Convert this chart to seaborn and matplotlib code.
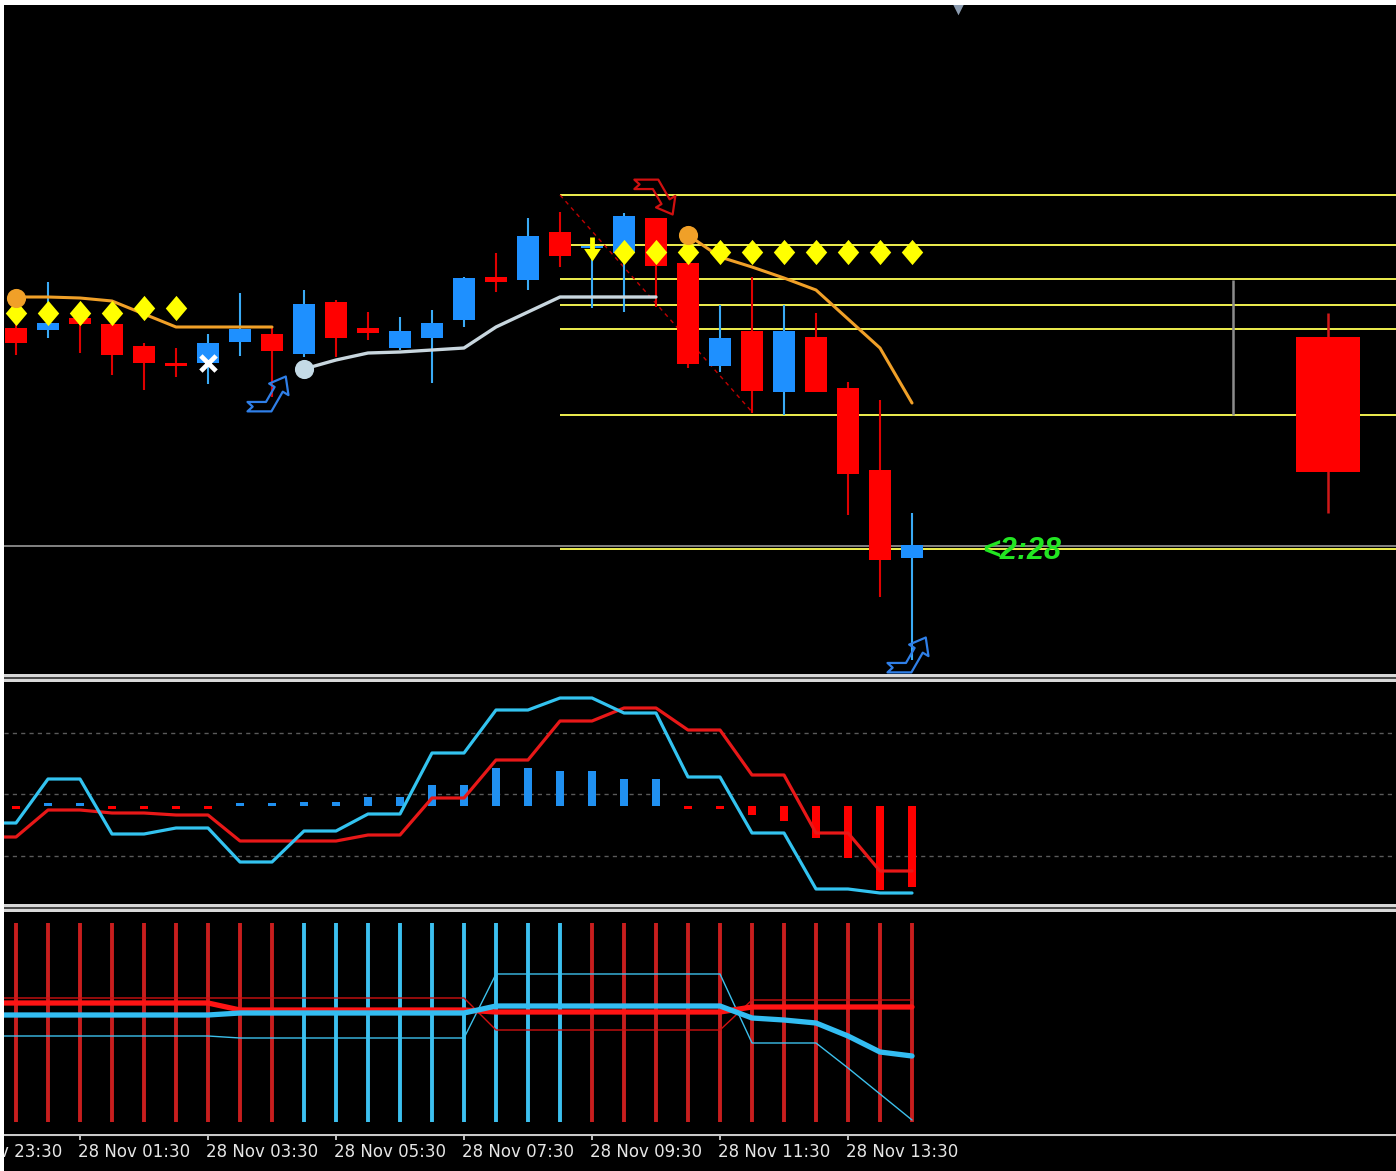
import matplotlib
matplotlib.use("Agg")
import numpy as np
import pandas as pd
import matplotlib.pyplot as plt
import seaborn as sns
from matplotlib.patches import Rectangle
from matplotlib.path import Path

# ----------------------------------------------------------------------------
# DATA  (price levels are read in chart points measured from the top of the
#        chart, so a larger number is a lower price; the axes are inverted)
# ----------------------------------------------------------------------------
candle_idx = list(range(29))
opens  = [328, 330, 318, 324, 346, 363, 363, 342, 334, 354, 302, 328, 348, 338, 320,
          277, 280, 232, 248, 253, 218, 263, 366, 331, 392, 337, 388, 470, 558]
highs  = [318, 282, 312, 322, 343, 348, 334, 293, 327, 290, 300, 312, 317, 310, 277,
          253, 218, 212, 240, 213, 218, 260, 305, 277, 305, 313, 382, 400, 513]
lows   = [355, 338, 353, 375, 390, 377, 384, 356, 397, 357, 357, 340, 350, 383, 327,
          292, 290, 267, 308, 312, 307, 368, 372, 413, 415, 392, 515, 597, 660]
closes = [343, 323, 324, 355, 363, 366, 343, 329, 351, 304, 338, 333, 331, 323, 278,
          282, 236, 256, 246, 216, 266, 364, 338, 391, 331, 392, 474, 560, 545]

# higher-timeframe candle drawn to the right
htf_idx = [41]
htf_open, htf_high, htf_low, htf_close = [337], [313], [513], [472]
htf_marker_idx = [38.03]
htf_marker_top, htf_marker_bot = [280], [415]

# horizontal levels
level_start = 17
yellow_levels = [195, 245, 279, 305, 329, 415, 549]
bid_level = 546
trend_idx = [17, 23.03]
trend_level = [195, 413]

# stepped moving averages
orange_left_idx = list(range(0, 9))
orange_left = [297, 297, 298, 301, 314, 327, 327, 327, 327]
orange_right_idx = list(range(21, 29))
orange_right = [235, 257, 267, 278, 290, 319, 348, 403]
silver_idx = list(range(9, 21))
silver = [369, 360, 353, 352, 350, 348, 327, 312, 297, 297, 297, 297]
orange_dots_idx, orange_dots = [0, 21], [298, 235]
silver_dot_idx, silver_dot = [9], [369]

# diamonds
diamond_idx = [0, 1, 2, 3, 4, 5, 19, 20, 21, 22, 23, 24, 25, 26, 27, 28]
diamond_lvl = [313, 313, 313, 313, 308, 308, 252, 252, 252, 252, 252, 252, 252, 252, 252, 252]

# signals
down_arrow_idx, down_arrow_lvl = [18], [249]
exit_idx, exit_lvl = [6], [363]
buy_idx, buy_lvl = [7.97, 27.97], [389, 650]
sell_idx, sell_lvl = [20.06], [202]
timer_text = "<2:28"
timer_idx, timer_lvl = 30.19, 551

# oscillator panel (starts one bar before the first visible candle)
osc_idx = list(range(-1, 29))
osc_fast = [823, 823, 779, 779, 834, 834, 828, 828, 862, 862, 831, 831, 814, 814, 753,
            753, 710, 710, 698, 698, 713, 713, 777, 777, 833, 833, 889, 889, 893, 893]
osc_slow = [837, 837, 810, 810, 813, 813, 815, 815, 841, 841, 841, 841, 835, 835, 798,
            798, 760, 760, 721, 721, 708, 708, 730, 730, 775, 775, 833, 833, 871, 871]
osc_hist = [-3, 3, 3, -3, -3, -3, -3, 3, 3, 4, 4, 9, 9, 21, 21, 38, 38, 35, 35, 27, 27,
            -3, -3, -9, -15, -32, -52, -84, -81]
osc_zero = 806
osc_levels = [733, 794, 856]

# bottom panel
trend_state = ["dn"] * 9 + ["up"] * 9 + ["dn"] * 11
band_idx = list(range(-1, 29))
thin_red = [998] * 16 + [1030] * 8 + [1000] * 6
thick_red = [1003] * 8 + [1010] * 8 + [1012] * 8 + [1007] * 6
thick_cyan = [1015] * 8 + [1013] * 8 + [1006] * 8 + [1018, 1020, 1023, 1036, 1052, 1056]
thin_cyan = [1036] * 8 + [1038] * 8 + [974] * 8 + [1043, 1043, 1043, 1068, 1094, 1120]

tick_idx = [-2, 2, 6, 10, 14, 18, 22, 26]
tick_labels = ["27 Nov 23:30", "28 Nov 01:30", "28 Nov 03:30", "28 Nov 05:30",
               "28 Nov 07:30", "28 Nov 09:30", "28 Nov 11:30", "28 Nov 13:30"]

# ----------------------------------------------------------------------------
W, H = 1396, 1171
X0 = 4
sns.set_theme(style="dark", rc={"axes.facecolor": "black", "figure.facecolor": "black"})
plt.rcParams["font.family"] = ["DejaVu Sans"]

fig = plt.figure(figsize=(W / 100, H / 100), dpi=100)
fig.patch.set_facecolor("black")
XMIN, XMAX = (X0 - 16) / 32, (W - 16) / 32


def panel(top, bot):
    a = fig.add_axes([X0 / W, 1 - bot / H, (W - X0) / W, (bot - top) / H])
    a.set_facecolor("black")
    return a


def finish(a, top, bot):
    a.set_xlim(XMIN, XMAX)
    a.set_ylim(bot, top)
    a.set_xticks([])
    a.set_yticks([])
    a.set_xlabel("")
    a.set_ylabel("")
    a.grid(False)
    for s in a.spines.values():
        s.set_visible(False)


def closed(verts):
    return Path(verts, [Path.MOVETO] + [Path.LINETO] * (len(verts) - 2) + [Path.CLOSEPOLY])


# ------------------------------- main panel --------------------------------
ax = panel(5, 674)
idx = np.array(candle_idx)
o, h, l, c = map(np.array, (opens, highs, lows, closes))
bull = c < o
body_col = np.where(bull, "#1E90FF", "#FF0000")
wick_col = np.where(bull, "#3AAAF5", "#E00000")

ax.hlines(yellow_levels, level_start, XMAX, colors="#F0F050", lw=1.4, zorder=2)
ax.axhline(bid_level, color="#8C8C8C", lw=1.3, zorder=2)
ax.plot(trend_idx, trend_level, color="#C00000", lw=1.0, ls=(0, (3, 3)), zorder=2)
ax.vlines(htf_marker_idx, htf_marker_top, htf_marker_bot, colors="#8C8C8C", lw=1.8, zorder=2)

ax.vlines(idx, h, l, colors=wick_col, lw=1.5, zorder=3)
ax.bar(idx, np.maximum(np.abs(c - o), 2), bottom=np.minimum(o, c), width=0.68,
       color=body_col, lw=0, zorder=4)

# higher timeframe candle
ax.vlines(htf_idx, htf_high, htf_low, colors="#D01818", lw=1.8, zorder=3)
ax.bar(htf_idx, np.abs(np.array(htf_close) - np.array(htf_open)),
       bottom=np.minimum(htf_open, htf_close), width=2.0, color="#FF0000", lw=0, zorder=4)

sns.lineplot(x=orange_left_idx, y=orange_left, ax=ax, color="#F0A028", lw=2.2, zorder=5)
sns.lineplot(x=orange_right_idx, y=orange_right, ax=ax, color="#F0A028", lw=2.2, zorder=5)
sns.lineplot(x=silver_idx, y=silver, ax=ax, color="#C8D6DE", lw=2.4, zorder=5)

diamond = closed([(0, 1), (0.85, 0), (0, -1), (-0.85, 0), (0, 1)])
sns.scatterplot(x=diamond_idx, y=diamond_lvl, ax=ax, marker=diamond, s=330,
                color="#FFFF00", linewidth=0, zorder=6)
ax.scatter(orange_dots_idx, orange_dots, s=190, color="#F0A028", zorder=7, lw=0)
ax.scatter(silver_dot_idx, silver_dot, s=190, color="#C4DAE6", zorder=7, lw=0)
ax.scatter(exit_idx, exit_lvl, marker="x", s=120, color="white", lw=3.4, zorder=8)

down_marker = closed([(-0.2, 1), (0.2, 1), (0.2, 0.05), (0.7, 0.05), (0, -1),
                      (-0.7, 0.05), (-0.2, 0.05), (-0.2, 1)])
ax.scatter(down_arrow_idx, down_arrow_lvl, marker=down_marker, s=300, color="#FFFF00",
           lw=0, zorder=8)

# hollow elbow arrows (buy: tail left, head up-right; sell: mirrored)
elbow = [(-1.0, -0.55), (-0.215, -0.55), (0.152, 0.086), (-0.08, 0.23), (0.625, 0.53),
         (0.74, -0.26), (0.498, -0.114), (0.015, -0.95), (-1.0, -0.95), (-0.78, -0.75),
         (-1.0, -0.55)]
buy_marker = closed(elbow)
sell_marker = closed([(x, -y) for x, y in elbow])
ax.scatter(buy_idx, buy_lvl, marker=buy_marker, s=1150, facecolors="none",
           edgecolors="#2F7FE8", linewidths=1.6, zorder=8)
ax.scatter(sell_idx, sell_lvl, marker=sell_marker, s=1150, facecolors="none",
           edgecolors="#D01010", linewidths=1.6, zorder=8)

ax.text(timer_idx, timer_lvl, timer_text, color="#22E622", fontsize=22,
        family=["Liberation Sans", "DejaVu Sans"], fontweight="bold", fontstyle="italic",
        ha="left", va="center", zorder=9)
ax.scatter([(958 - 16) / 32], [8.5], marker="v", s=70, color="#8C9CB0", lw=0, zorder=9)
finish(ax, 5, 674)

# ------------------------------ oscillator ---------------------------------
ax2 = panel(682, 904)
ax2.hlines(osc_levels, XMIN, XMAX, colors="#5A5A5A", lw=1.0, linestyles=(0, (3, 3)), zorder=1)
hv = np.array(osc_hist)
ax2.bar(idx, -hv, bottom=osc_zero, width=0.28,
        color=np.where(hv > 0, "#2090F0", "#FF0000"), lw=0, zorder=2)
sns.lineplot(x=osc_idx, y=osc_slow, ax=ax2, color="#E81818", lw=2.3, zorder=3)
sns.lineplot(x=osc_idx, y=osc_fast, ax=ax2, color="#33C3F0", lw=2.3, zorder=4)
finish(ax2, 682, 904)

# ------------------------------ bottom panel -------------------------------
ax3 = panel(912, 1134)
bar_cols = ["#C81E1E" if s == "dn" else "#3CC0F0" for s in trend_state]
ax3.vlines(idx, 923, 1122, colors=bar_cols, lw=2.8, zorder=1)
sns.lineplot(x=band_idx, y=thin_cyan, ax=ax3, color="#3CC0EC", lw=1.0, zorder=2)
sns.lineplot(x=band_idx, y=thin_red, ax=ax3, color="#D01010", lw=1.0, zorder=2)
sns.lineplot(x=band_idx, y=thick_red, ax=ax3, color="#FF1414", lw=3.8, zorder=3)
sns.lineplot(x=band_idx, y=thick_cyan, ax=ax3, color="#33BDF2", lw=3.8, zorder=4)
finish(ax3, 912, 1134)

# ------------------------------ time axis ----------------------------------
axx = fig.add_axes([X0 / W, 0, (W - X0) / W, (H - 1134) / H])
axx.set_facecolor("black")
for t, lab in zip(tick_idx, tick_labels):
    axx.text(t - 0.06, 1152, lab, color="#E6E6E6", fontsize=12, ha="left",
             va="center", clip_on=True)
axx.vlines(tick_idx, 1134, 1139.5, colors="#E0E0E0", lw=1.2)
axx.axhline(1135, color="#C8C8C8", lw=1.5)
finish(axx, 1134, H)

# ------------------------------ frame --------------------------------------
def band(y0, y1, color, x0=0, x1=W):
    fig.add_artist(Rectangle((x0 / W, 1 - y1 / H), (x1 - x0) / W, (y1 - y0) / H,
                             transform=fig.transFigure, color=color, lw=0, zorder=20))

for top in (674, 904):
    band(top, top + 3, "#D8D8D8")
    band(top + 3, top + 5, "#4A4A4A")
    band(top + 5, top + 8, "#D8D8D8")
band(0, 5, "white")
band(0, H, "white", 0, X0)

fig.savefig("out.png", dpi=100, facecolor=fig.get_facecolor())
